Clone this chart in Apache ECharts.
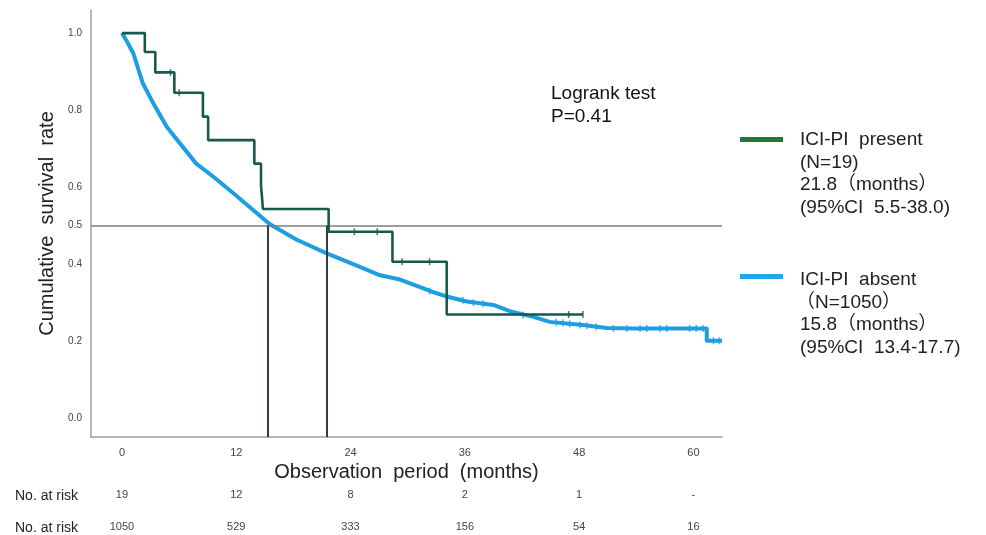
<!DOCTYPE html>
<html>
<head>
<meta charset="utf-8">
<script src="https://cdn.jsdelivr.net/npm/echarts@6/dist/echarts.min.js"></script>
<style>
html,body{margin:0;padding:0;background:#fff;}
#chart{width:986px;height:535px;}
</style>
</head>
<body>
<div id="chart"></div>
<script>
// ---- data ----
const tickMonths = [0, 12, 24, 36, 48, 60];
const yTickValues = [0, 0.2, 0.4, 0.5, 0.6, 0.8, 1.0];
const riskPresent = ['19', '12', '8', '2', '1', '-'];
const riskAbsent = ['1050', '529', '333', '156', '54', '16'];

// ICI-PI present: KM step points (time, survival)
const presentT = [0, 2.4, 3.5, 5.5, 8.5, 9.05, 13.9, 14.6, 14.8, 21.7, 28.4, 34.1, 48.4];
const presentS = [1.0, 0.951, 0.898, 0.845, 0.783, 0.722, 0.661, 0.605, 0.543, 0.484, 0.406, 0.269, 0.269];
const presentCensT = [5.1, 6.0, 24.4, 26.8, 29.4, 32.3, 46.9, 48.4];
const presentCensS = [0.898, 0.845, 0.484, 0.484, 0.406, 0.406, 0.269, 0.269];

// ICI-PI absent: curve traced (time, survival)
const absentT = [0, 0.6, 1.2, 2.2, 3.3, 4.7, 6.1, 7.8, 9.6, 11.7, 13.8, 15.5, 18.3, 21.5, 24.6, 27.1, 29.2, 32.7, 34.1, 36.2, 39.0, 40.7, 43.2, 44.9, 48.4, 50.9, 53.7, 61.4, 61.4, 63.0];
const absentS = [1.0, 0.975, 0.947, 0.869, 0.817, 0.757, 0.713, 0.661, 0.627, 0.584, 0.540, 0.504, 0.464, 0.428, 0.397, 0.371, 0.360, 0.327, 0.316, 0.303, 0.294, 0.278, 0.263, 0.250, 0.242, 0.234, 0.233, 0.233, 0.201, 0.201];
const absentCensT = [32.3, 35.8, 36.9, 37.9, 42.1, 45.6, 46.3, 47.0, 48.1, 48.8, 49.8, 51.6, 53.0, 54.4, 55.1, 56.5, 57.2, 59.6, 60.3, 61.0, 62.1, 62.7];
const absentCensS = [0.330, 0.306, 0.300, 0.297, 0.268, 0.249, 0.247, 0.245, 0.242, 0.240, 0.237, 0.233, 0.233, 0.233, 0.233, 0.233, 0.233, 0.233, 0.233, 0.233, 0.201, 0.201];

// median lines
const medianAbsent = 15.3;
const medianPresent = 21.5;
const refLevel = 0.5;

const X_MIN = -3.25, X_MAX = 63.0, Y_MIN = -0.049, Y_MAX = 1.06;
const FONT = "'Liberation Sans', Arial, 'Noto Sans CJK JP', sans-serif";
const GREEN = '#17594b', GREEN_LEG = '#1d7a3c', BLUE = '#1c9fe2', BLUE_LEG = '#1aa8ee';

const zip = (a, b) => a.map((v, i) => [v, b[i]]);

const chart = echarts.init(document.getElementById('chart'), null, {renderer: 'canvas'});

function riskAxis(values, offset, color) {
  return {
    type: 'value', gridIndex: 0, position: 'bottom', offset: offset,
    min: X_MIN, max: X_MAX,
    axisLine: {show: false}, axisTick: {show: false}, splitLine: {show: false},
    axisLabel: {
      customValues: tickMonths, margin: 0,
      fontFamily: FONT, fontSize: 11, color: color,
      formatter: v => values[tickMonths.indexOf(v)] ?? ''
    }
  };
}

const option = {
  animation: false,
  backgroundColor: '#fff',
  grid: {left: 91, right: 264, top: 10, bottom: 98, containLabel: false},
  xAxis: [
    {
      type: 'value', min: X_MIN, max: X_MAX,
      name: 'Observation  period  (months)', nameLocation: 'middle', nameGap: 21,
      nameTextStyle: {fontFamily: FONT, fontSize: 20, color: '#222'},
      axisLine: {show: true, onZero: false, lineStyle: {color: '#a0a0a0', width: 1.5}},
      axisTick: {show: false}, splitLine: {show: false},
      axisLabel: {customValues: tickMonths, margin: 10, fontFamily: FONT, fontSize: 11, color: '#444'}
    },
    riskAxis(riskPresent, 52, '#444'),
    riskAxis(riskAbsent, 84, '#444')
  ],
  yAxis: {
    type: 'value', min: Y_MIN, max: Y_MAX,
    name: 'Cumulative  survival  rate', nameLocation: 'middle', nameGap: 30,
    nameTextStyle: {fontFamily: FONT, fontSize: 20, color: '#222'},
    axisLine: {show: true, onZero: false, lineStyle: {color: '#a0a0a0', width: 1.5}},
    axisTick: {show: false}, splitLine: {show: false},
    axisLabel: {customValues: yTickValues, margin: 9, fontFamily: FONT, fontSize: 10, color: '#444',
      formatter: v => Number(v).toFixed(1)}
  },
  graphic: [
    {type: 'text', left: 551, top: 82, style: {text: 'Logrank test\nP=0.41', font: '19px ' + FONT, fill: '#111', lineHeight: 23}},
    {type: 'rect', shape: {x: 740, y: 137, width: 43, height: 5}, style: {fill: GREEN_LEG}},
    {type: 'text', left: 800, top: 129, style: {text: 'ICI-PI  present\n(N=19)\n21.8（months）\n(95%CI  5.5-38.0)', font: '19px ' + FONT, fill: '#222', lineHeight: 22.5}},
    {type: 'rect', shape: {x: 740, y: 274, width: 43, height: 5}, style: {fill: BLUE_LEG}},
    {type: 'text', left: 796, top: 291.5, style: {text: '（N=1050）', font: '19px ' + FONT, fill: '#222', lineHeight: 22.5}},
    {type: 'text', left: 800, top: 269, style: {text: 'ICI-PI  absent\n\n15.8（months）\n(95%CI  13.4-17.7)', font: '19px ' + FONT, fill: '#222', lineHeight: 22.5}},
    {type: 'text', left: 15, top: 489, style: {text: 'No. at risk', font: '14px ' + FONT, fill: '#222'}},
    {type: 'text', left: 15, top: 521, style: {text: 'No. at risk', font: '14px ' + FONT, fill: '#222'}}
  ],
  series: [
    {
      type: 'line', name: 'ref', data: [], silent: true, z: 1,
      markLine: {
        silent: true, symbol: 'none', label: {show: false},
        data: [
          {yAxis: refLevel, lineStyle: {color: '#7d7d7d', width: 1.6, type: 'solid'}},
          [{coord: [medianAbsent, refLevel], lineStyle: {color: '#2e403c', width: 2, type: 'solid'}}, {coord: [medianAbsent, Y_MIN]}],
          [{coord: [medianPresent, refLevel], lineStyle: {color: '#2e403c', width: 2, type: 'solid'}}, {coord: [medianPresent, Y_MIN]}]
        ]
      }
    },
    {
      type: 'line', name: 'ICI-PI absent', data: zip(absentT, absentS), showSymbol: false, z: 3,
      lineStyle: {color: BLUE, width: 4, join: 'round'}, itemStyle: {color: BLUE}
    },
    {
      type: 'scatter', name: 'absent censored', data: zip(absentCensT, absentCensS), z: 4,
      symbol: 'rect', symbolSize: [1.5, 7], itemStyle: {color: BLUE}
    },
    {
      type: 'line', name: 'ICI-PI present', data: zip(presentT, presentS), step: 'end', showSymbol: false, z: 5,
      lineStyle: {color: GREEN, width: 2.6}, itemStyle: {color: GREEN}
    },
    {
      type: 'scatter', name: 'present censored', data: zip(presentCensT, presentCensS), z: 6,
      symbol: 'rect', symbolSize: [1.5, 7], itemStyle: {color: GREEN}
    }
  ]
};
chart.setOption(option);
</script>
</body>
</html>
